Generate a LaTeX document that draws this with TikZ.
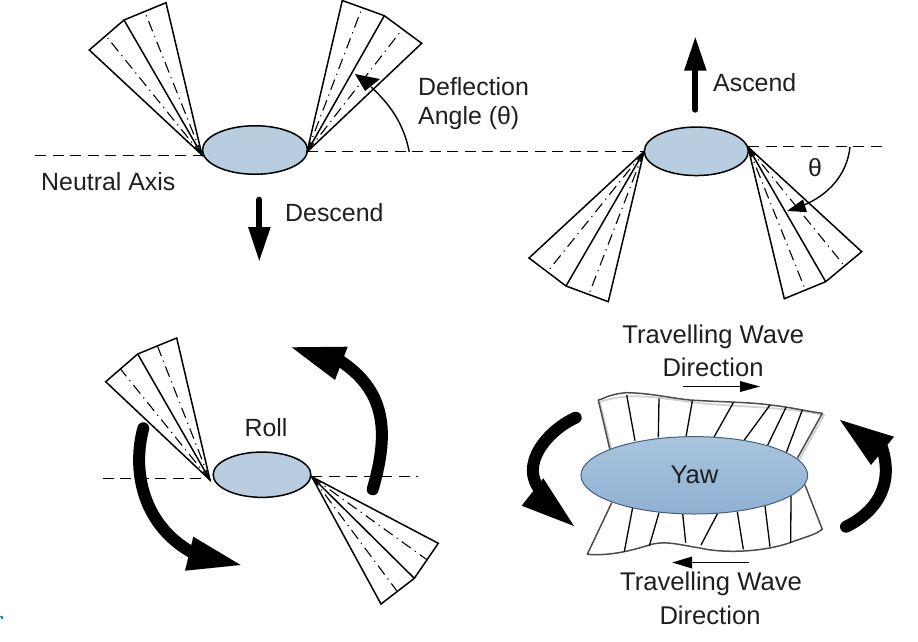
\documentclass[tikz,border=0pt]{standalone}
\usepackage{fontspec}
\setmainfont{Liberation Sans}
\usetikzlibrary{arrows.meta,shapes.geometric}
\tikzset{
  x=1pt,y=-1pt,
  lbl/.style={font=\fontsize{24.9}{29}\selectfont,text=black!88,inner sep=0pt,align=left},
  lblwide/.style={font=\fontsize{25.6}{30}\selectfont,text=black!88,inner sep=0pt,align=center},
  body/.style={ellipse,draw=black,line width=1.5pt,fill=bodyblue,inner sep=0pt},
  axisline/.style={line width=1.4pt,dash pattern=on 11pt off 6.5pt},
  finline/.style={line width=1.5pt,line join=miter},
  centerline/.style={line width=1.1pt,dash pattern=on 11pt off 5pt on 1.2pt off 5pt},
  thinarc/.style={line width=1.4pt},
  heavy/.style={line width=12pt,line cap=round},
  stem/.style={line width=6pt,line cap=round},
  headfill/.style={fill=black,draw=none},
  wing/.style={line width=1.5pt,draw=black!70,line join=round},
  wingshade/.style={line width=1.8pt,draw=black!18},
  rib/.style={line width=1.3pt},
}
\definecolor{bodyblue}{HTML}{B9CDE0}
\definecolor{yawtop}{HTML}{A9C4DE}
\definecolor{yawbot}{HTML}{8FB1D2}
\definecolor{yawedge}{HTML}{47607A}
\definecolor{speck}{HTML}{1A8AC8}
\newcommand{\fanshape}[6]{%
  \draw[finline,fill=white] #1 -- #2 -- #4 -- #6 -- cycle;
  \draw[finline] #1 -- #4;
  \draw[centerline] #1 -- #3;
  \draw[centerline] #1 -- #5;
}
\begin{document}
\begin{tikzpicture}
\useasboundingbox (0,0) rectangle (918,641);
\fill[speck] (0,616) -- (3,616) -- (3,619) -- (1,619) -- (1,617) -- (0,617) -- cycle;
% axes
\coordinate (axL1) at (35,155.5);
\coordinate (axM1) at (307,151.5);
\coordinate (axR1) at (643,151.5);
\coordinate (axM2) at (748,146.5);
\coordinate (axR2) at (886.7,146.5);
\coordinate (axL3) at (102.7,478.5);
\coordinate (axM3) at (210,478.5);
\coordinate (axN3) at (311,476.5);
\coordinate (axR3) at (418.3,476.5);
% bodies
\node[body,minimum width=105pt,minimum height=48.5pt] (bodyA) at (255,150) {};
\node[body,minimum width=104pt,minimum height=48.5pt] (bodyB) at (696.3,151.3) {};
\node[body,minimum width=97.7pt,minimum height=45.3pt] (bodyC) at (262,474.7) {};
\draw[axisline] (axL1) -- (bodyA.west |- axL1);
\draw[axisline] (axM1) -- (axR1);
\draw[axisline] (axM2) -- (axR2);
\draw[axisline] (axL3) -- (axM3);
\draw[axisline] (axN3) -- (axR3);
% fans
\fanshape{(202,155)}{(89.3,50)}{(106,36)}{(124,20)}{(145.7,14)}{(166,2.7)}
\fanshape{(307,152)}{(342.3,0.5)}{(362,8)}{(384.3,15.7)}{(401.7,30)}{(421.7,43.3)}
\fanshape{(644,151.5)}{(529,258)}{(548.3,270.7)}{(566,286)}{(589.3,293.3)}{(608.3,301.7)}
\fanshape{(748,147)}{(784.3,298.7)}{(805,289)}{(825.7,281.7)}{(844.3,265.7)}{(861.7,251.7)}
\fanshape{(210,480)}{(105.7,381.7)}{(120.7,369.3)}{(137.7,354)}{(157.7,346.7)}{(176.7,338)}
\fanshape{(311.7,476.7)}{(438.3,543.3)}{(427.3,560)}{(414.3,578.3)}{(396.7,590.7)}{(381,604)}
% deflection arcs
\draw[thinarc] (409.3,152) .. controls (404,125) and (391,105) .. (371,87);
\fill[headfill] (355,74) -- (380,79) -- (365,91) -- cycle;
\draw[thinarc] (850,147) .. controls (847,175) and (828,195) .. (804,205);
\fill[headfill] (787,211) -- (803,199.5) -- (807,212) -- cycle;
% straight arrows
\draw[stem] (259.3,199.7) -- (259.3,228);
\fill[headfill] (248,227) -- (270.7,227) -- (259.3,260.7) -- cycle;
\draw[stem] (695.3,109.7) -- (695.3,69);
\fill[headfill] (684,70.7) -- (706.7,70.7) -- (695.3,37.3) -- cycle;
% roll arrows
\draw[heavy] (143.3,428.3) .. controls (132,470) and (142,525) .. (193,553);
\fill[headfill] (193.3,536.7) -- (185,570.7) -- (240.7,565) -- cycle;
\draw[heavy] (372.7,489.3) .. controls (390,430) and (385,390) .. (339,360);
\fill[headfill] (347.7,346.7) -- (335,380) -- (291.7,347.3) -- cycle;
% yaw wings
\draw[wingshade] (600,402) .. controls (625,393) and (650,396) .. (690,402)
  .. controls (730,407) and (780,406) .. (824,415) -- (799,460);
\draw[wingshade] (600,402) -- (612,452);
\draw[wing] (610,450) -- (598.3,400) .. controls (602,400) and (608,394) .. (626.7,392.7)
  .. controls (650,393) and (670,398) .. (690,400)
  .. controls (720,402) and (750,402) .. (770,405)
  .. controls (790,407) and (805,411) .. (822.3,413.3) -- (797.3,458.3);
\draw[wing] (611.7,502.7) -- (587.3,554.3) .. controls (610,556) and (630,551) .. (649.3,545)
  .. controls (665,540) and (680,545) .. (700,548)
  .. controls (720,553) and (760,553) .. (790,542.7)
  .. controls (805,537) and (815,535) .. (822.3,529.3) -- (805,485);
\foreach \xa/\ya/\xb/\yb in {626.7/395/635/440.7, 659/398.3/658.3/437.3, 692.3/401/686/436.7, 733.3/402.7/713.3/438.3, 770/405/744.3/440, 786/407.3/767.3/446, 802.3/410/786/453.3,
  632.7/507.3/624.3/551.7, 659/512.7/649.3/546, 682.7/514/685.7/542.7, 717.3/514/701/545, 737.3/511.7/743.3/549.3, 765/506/770/546.7, 791/495/790.7/542.7}
  \draw[rib] (\xa,\ya) -- (\xb,\yb);
% yaw body
\node[ellipse,draw=yawedge,line width=1pt,top color=yawtop,bottom color=yawbot,minimum width=226.7pt,minimum height=77.4pt,inner sep=0pt] (bodyD) at (694.3,475.3) {};
% wave arrows
\draw[thinarc] (683.3,386.5) -- (741,386.5);
\fill[headfill] (760,386.5) -- (740,381) -- (740,392) -- cycle;
\draw[thinarc] (749,562.5) -- (691,562.5);
\fill[headfill] (672.3,562.5) -- (692,556.5) -- (692,568.5) -- cycle;
% yaw arrows
\draw[heavy] (575.7,417.7) .. controls (548,430) and (518,465) .. (541,491);
\fill[headfill] (543.3,478.3) -- (521.7,505.7) -- (574,526) -- cycle;
\draw[heavy] (846,526.7) .. controls (880,510) and (895,480) .. (880,442);
\fill[headfill] (871,465) -- (894,436.7) -- (840,420) -- cycle;
% labels
\node[lbl,anchor=west] (tDef) at (418,103.5) {Deflection\\Angle (θ)};
\node[lbl,anchor=west] (tNeu) at (41,182) {Neutral Axis};
\node[lbl,anchor=west] (tDes) at (285,213) {Descend};
\node[lbl,anchor=west] (tAsc) at (713,83) {Ascend};
\node[lbl] (tTh) at (815,168) {θ};
\node[lbl] (tRoll) at (266,428) {Roll};
\node[lblwide] (tYaw) at (694.5,475) {Yaw};
\node[lblwide] (tW1) at (713.3,336.5) {Travelling Wave};
\node[lblwide] (tD1) at (713,367) {Direction};
\node[lblwide] (tW2) at (711,584) {Travelling Wave};
\node[lblwide] (tD2) at (710,615) {Direction};
\end{tikzpicture}
\end{document}
